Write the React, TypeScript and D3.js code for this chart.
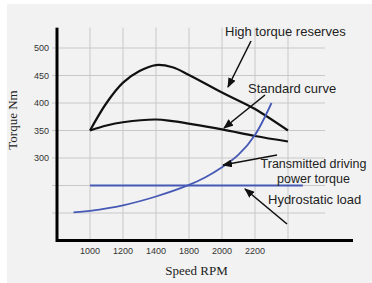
import * as React from 'react'
import * as d3 from 'd3'

// grid / tick data
const gridRpm = [1000, 1200, 1400, 1600, 1800, 2000, 2200]
const xTickLabels = ['1000', '1200', '1400', '1800', '2000', '2200']
const gridTorque = [200, 250, 300, 350, 400, 450, 500]
const yTickLabels = ['', '', '300', '350', '400', '450', '500']

// curves (rpm, Nm)
const highRpm = [1000, 1100, 1200, 1300, 1400, 1500, 1600, 1800, 2000, 2200]
const highTorque = [350, 400, 437, 458, 469, 465, 451, 419, 389, 350]
const stdRpm = [1000, 1100, 1200, 1400, 1500, 1800, 2000, 2200]
const stdTorque = [350, 359, 365, 370, 367, 352, 340, 330]
const driveRpm = [900, 1000, 1200, 1400, 1600, 1700, 1800, 1900, 2000, 2100]
const driveTorque = [201, 204, 214, 230, 251, 265, 283, 306, 342, 400]
const hydroRpm = [1000, 2290]
const hydroTorque = [250, 250]

const W = 372
const H = 283

export default function App() {
  const x = d3.scaleLinear().domain([1000, 2200]).range([90, 288])
  const y = d3.scaleLinear().domain([300, 500]).range([158, 48])

  const line = (rpm: number[], t: number[], curve: d3.CurveFactory = d3.curveCatmullRom.alpha(0.5)) =>
    d3
      .line<number>()
      .x((_, i) => x(rpm[i]))
      .y((d) => y(d))
      .curve(curve)(t) ?? ''

  const axisX = x(800)
  const axisY = y(150)
  const topY = y(537)
  const gridRight = x(2424)

  const arrows = [
    { x1: 251, y1: 41, x2: 228, y2: 87 },
    { x1: 265, y1: 95, x2: 224, y2: 128 },
    { x1: 277, y1: 155, x2: 223, y2: 165 },
    { x1: 287, y1: 224, x2: 245, y2: 189 },
  ]

  return (
    <svg width={W} height={H} style={{ position: 'absolute', left: 0, top: 0 }}>
      <defs>
        <marker id="ah" markerUnits="userSpaceOnUse" markerWidth={10} markerHeight={8} refX={9} refY={4} orient="auto">
          <path d="M0,0 L10,4 L0,8 Z" fill="#111" />
        </marker>
      </defs>
      <rect width={W} height={H} fill="#fff" />
      <rect x={7} y={4} width={W - 7} height={H - 4} fill="#f2f2f2" />

      {/* grid */}
      {gridRpm.map((r) => (
        <line key={'v' + r} x1={x(r)} x2={x(r)} y1={topY} y2={axisY} stroke="#c8c8c8" strokeWidth={1} />
      ))}
      {gridTorque.map((t) => (
        <line key={'h' + t} x1={axisX - 5} x2={gridRight} y1={y(t)} y2={y(t)} stroke="#c8c8c8" strokeWidth={1} />
      ))}

      {/* tick labels */}
      {gridTorque.map((t, i) => (
        <text key={'yl' + t} x={49} y={y(t)} dy="0.35em" textAnchor="end" fontFamily="Arial, 'Liberation Sans', sans-serif" fontSize={9} fill="#333">
          {yTickLabels[i]}
        </text>
      ))}
      {xTickLabels.map((l, i) => (
        <text key={'xl' + l} x={x(gridRpm[i])} y={254} textAnchor="middle" fontFamily="Arial, 'Liberation Sans', sans-serif" fontSize={9} fill="#333">
          {l}
        </text>
      ))}

      {/* axes */}
      <line x1={axisX} x2={axisX} y1={topY} y2={axisY + 1.5} stroke="#000" strokeWidth={3} />
      <line x1={axisX} x2={353} y1={axisY} y2={axisY} stroke="#000" strokeWidth={3} />

      {/* curves */}
      <path d={line(highRpm, highTorque)} fill="none" stroke="#111" strokeWidth={2.2} />
      <path d={line(stdRpm, stdTorque)} fill="none" stroke="#111" strokeWidth={2.2} />
      <path d={line(driveRpm, driveTorque)} fill="none" stroke="#4559b5" strokeWidth={1.8} />
      <path d={line(hydroRpm, hydroTorque, d3.curveLinear)} fill="none" stroke="#4559b5" strokeWidth={2} />

      {/* annotations */}
      {arrows.map((a, i) => (
        <line key={'a' + i} x1={a.x1} y1={a.y1} x2={a.x2} y2={a.y2} stroke="#111" strokeWidth={1.6} markerEnd="url(#ah)" />
      ))}
      <g fontFamily="Arial, 'Liberation Sans', sans-serif" fontSize={13} fill="#222">
        <text x={225} y={36}>High torque reserves</text>
        <text x={248} y={93}>Standard curve</text>
        <text x={313.5} y={168} textAnchor="middle" fontSize={12.5}>Transmitted driving</text>
        <text x={313.5} y={183} textAnchor="middle" fontSize={12.5}>power torque</text>
        <text x={268} y={204}>Hydrostatic load</text>
      </g>

      {/* axis titles */}
      <text x={196.5} y={275} textAnchor="middle" fontFamily="'Liberation Serif', 'Times New Roman', serif" fontSize={13} fill="#222">
        Speed RPM
      </text>
      <text transform="translate(17,120) rotate(-90)" textAnchor="middle" fontFamily="'Liberation Serif', 'Times New Roman', serif" fontSize={13} fill="#222">
        Torque Nm
      </text>
    </svg>
  )
}
